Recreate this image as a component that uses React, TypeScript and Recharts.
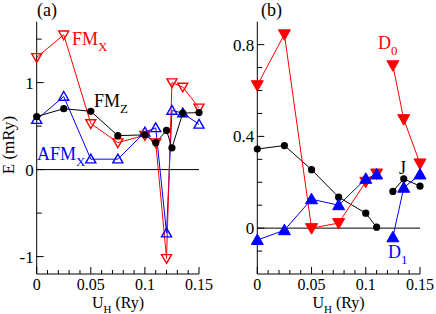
import React from 'react'
import { LineChart, Line, XAxis, YAxis, ReferenceLine } from 'recharts'

// panel (a): energy differences vs U_H
const uA = [0, 0.025, 0.05, 0.075, 0.1, 0.11, 0.12, 0.125, 0.135, 0.15]
const fmZ = [0.61, 0.7, 0.67, 0.39, 0.4, 0.31, 0.45, 0.25, 0.65, 0.655]
const fmX = [1.29, 1.55, 0.53, 0.31, 0.395, 0.31, -1.02, 1.0, 0.95, 0.71]
const afmX = [0.575, 0.84, 0.12, 0.12, 0.43, 0.48, -0.73, 0.68, 0.65, 0.52]

// panel (b): J, D0, D1 (null = gap in the curve)
const uB = [0, 0.025, 0.05, 0.075, 0.1, 0.11, 0.12, 0.125, 0.135, 0.15]
const jB = [0.345, 0.36, 0.255, 0.135, 0.065, 0.004, null, 0.16, 0.215, 0.183]
const d0 = [0.623, 0.845, 0.0, 0.022, 0.202, 0.238, null, 0.71, 0.475, 0.282]
const d1 = [-0.052, -0.009, 0.126, 0.1, 0.215, 0.234, null, -0.04, 0.176, 0.234]

// ticks
const xTicks = [0, 0.01, 0.02, 0.03, 0.04, 0.05, 0.06, 0.07, 0.08, 0.09, 0.1, 0.11, 0.12, 0.13, 0.14, 0.15]
const xMajor = [0, 0.05, 0.1, 0.15]
const xLabels = ['0', '0.05', '0.1', '0.15']
const yTicksA = [-1, -0.5, 0, 0.5, 1, 1.5]
const yMajorA = [-1, 0, 1]
const yLabelsA = ['-1', '0', '1']
const yTicksB = [-0.1, 0, 0.1, 0.2, 0.3, 0.4, 0.5, 0.6, 0.7, 0.8]
const yMajorB = [0, 0.4, 0.8]
const yLabelsB = ['0', '0.4', '0.8']

const RED = '#ff0000'
const BLUE = '#0000ff'
const FONT = '"Liberation Serif", "Times New Roman", serif'

const rowsA = uA.map((u, i) => ({ u, fmZ: fmZ[i], fmX: fmX[i], afmX: afmX[i] }))
const rowsB = uB.map((u, i) => ({ u, j: jB[i], d0: d0[i], d1: d1[i] }))

const labelOf = (v: number, majors: number[], labels: string[]) => {
  const k = majors.indexOf(v)
  return k >= 0 ? labels[k] : null
}

const bottomTick = (majors: number[], labels: string[]) => (p: any) => {
  const lab = labelOf(p.payload.value, majors, labels)
  return (
    <g>
      <line x1={p.x} x2={p.x} y1={p.y} y2={p.y - (lab ? 7 : 4)} stroke="#000" />
      {lab && (
        <text x={p.x} y={p.y + 16} textAnchor="middle" fontSize={16} fontFamily={FONT} fill="#000">
          {lab}
        </text>
      )}
    </g>
  )
}

const topTick = (majors: number[]) => (p: any) => {
  const major = majors.includes(p.payload.value)
  return <line x1={p.x} x2={p.x} y1={p.y} y2={p.y + (major ? 7 : 4)} stroke="#000" />
}

const leftTick = (majors: number[], labels: string[]) => (p: any) => {
  const lab = labelOf(p.payload.value, majors, labels)
  return (
    <g>
      <line x1={p.x} x2={p.x + (lab ? 7 : 5)} y1={p.y} y2={p.y} stroke="#000" />
      {lab && (
        <text x={p.x - 3} y={p.y + 6} textAnchor="end" fontSize={17} fontFamily={FONT} fill="#000">
          {lab}
        </text>
      )}
    </g>
  )
}

const rightTick = (majors: number[]) => (p: any) => {
  const major = majors.includes(p.payload.value)
  return <line x1={p.x} x2={p.x - (major ? 7 : 5)} y1={p.y} y2={p.y} stroke="#000" />
}

const triangle = (color: string, up: boolean, filled: boolean) => (p: any) => {
  const { cx, cy, index } = p
  if (cy == null || isNaN(cy)) return <g key={index} />
  const s = filled ? 6 : 5
  const d = up
    ? `M${cx},${cy - s} L${cx + s},${cy + s * 0.75} L${cx - s},${cy + s * 0.75} Z`
    : `M${cx},${cy + s} L${cx + s},${cy - s * 0.75} L${cx - s},${cy - s * 0.75} Z`
  return (
    <path
      key={index}
      d={d}
      fill={filled ? color : 'none'}
      stroke={color}
      strokeWidth={filled ? 1 : 1.4}
    />
  )
}

const circle = (p: any) => {
  const { cx, cy, index } = p
  if (cy == null || isNaN(cy)) return <g key={index} />
  return <circle key={index} cx={cx} cy={cy} r={3.6} fill="#000" />
}

const Sub = ({ x, y, main, sub, color, dy = 6 }: any) => (
  <text x={x} y={y} fill={color} fontSize={18} fontFamily={FONT}>
    {main}
    <tspan dy={dy} fontSize={13}>{sub}</tspan>
  </text>
)

const AxisTitle = ({ x }: { x: number }) => (
  <text x={x} y={308} fontSize={16} fontFamily={FONT} textAnchor="middle" fill="#000">
    U<tspan dy={5} fontSize={11}>H</tspan>
    <tspan dy={-5}> (Ry)</tspan>
  </text>
)

export default function App() {
  return (
    <div style={{ position: 'absolute', left: 0, top: 0, width: 436, height: 314, background: '#fff' }}>
      <div style={{ position: 'absolute', left: 0, top: 0 }}>
        <LineChart width={220} height={314} data={rowsA} margin={{ top: 21.7, right: 21, bottom: 10, left: 0 }}>
          <XAxis
            xAxisId="b"
            dataKey="u"
            type="number"
            domain={[0, 0.15]}
            ticks={xTicks}
            interval={0}
            height={30}
            tickSize={0}
            tickMargin={0}
            stroke="#000"
            tick={bottomTick(xMajor, xLabels)}
          />
          <XAxis
            xAxisId="t"
            dataKey="u"
            type="number"
            orientation="top"
            domain={[0, 0.15]}
            ticks={xTicks}
            interval={0}
            height={0}
            tickSize={0}
            tickMargin={0}
            stroke="#000"
            tick={topTick(xMajor)}
          />
          <YAxis
            yAxisId="l"
            type="number"
            domain={[-1.2, 1.7]}
            ticks={yTicksA}
            interval={0}
            width={36.7}
            tickSize={0}
            tickMargin={0}
            stroke="#000"
            tick={leftTick(yMajorA, yLabelsA)}
          />
          <YAxis
            yAxisId="r"
            type="number"
            orientation="right"
            domain={[-1.2, 1.7]}
            ticks={yTicksA}
            interval={0}
            width={0}
            tickSize={0}
            tickMargin={0}
            stroke="#000"
            tick={rightTick(yMajorA)}
          />
          <ReferenceLine xAxisId="b" yAxisId="l" y={0} stroke="#000" />
          <Line xAxisId="b" yAxisId="l" dataKey="afmX" stroke={BLUE} strokeWidth={1} dot={triangle(BLUE, true, false)} isAnimationActive={false} />
          <Line xAxisId="b" yAxisId="l" dataKey="fmX" stroke={RED} strokeWidth={1} dot={triangle(RED, false, false)} isAnimationActive={false} />
          <Line xAxisId="b" yAxisId="l" dataKey="fmZ" stroke="#000" strokeWidth={1} dot={circle} isAnimationActive={false} />
        </LineChart>
      </div>
      <div style={{ position: 'absolute', left: 220, top: 0 }}>
        <LineChart width={216} height={314} data={rowsB} margin={{ top: 21.7, right: 16, bottom: 10, left: 0 }}>
          <XAxis
            xAxisId="b"
            dataKey="u"
            type="number"
            domain={[0, 0.15]}
            ticks={xTicks}
            interval={0}
            height={30}
            tickSize={0}
            tickMargin={0}
            stroke="#000"
            tick={bottomTick(xMajor, xLabels)}
          />
          <XAxis
            xAxisId="t"
            dataKey="u"
            type="number"
            orientation="top"
            domain={[0, 0.15]}
            ticks={xTicks}
            interval={0}
            height={0}
            tickSize={0}
            tickMargin={0}
            stroke="#000"
            tick={topTick(xMajor)}
          />
          <YAxis
            yAxisId="l"
            type="number"
            domain={[-0.2, 0.9]}
            ticks={yTicksB}
            interval={0}
            width={37.3}
            tickSize={0}
            tickMargin={0}
            stroke="#000"
            tick={leftTick(yMajorB, yLabelsB)}
          />
          <YAxis
            yAxisId="r"
            type="number"
            orientation="right"
            domain={[-0.2, 0.9]}
            ticks={yTicksB}
            interval={0}
            width={0}
            tickSize={0}
            tickMargin={0}
            stroke="#000"
            tick={rightTick(yMajorB)}
          />
          <ReferenceLine xAxisId="b" yAxisId="l" y={0} stroke="#000" />
          <Line xAxisId="b" yAxisId="l" dataKey="j" stroke="#000" strokeWidth={1} dot={circle} isAnimationActive={false} />
          <Line xAxisId="b" yAxisId="l" dataKey="d0" stroke={RED} strokeWidth={1} dot={triangle(RED, false, true)} isAnimationActive={false} />
          <Line xAxisId="b" yAxisId="l" dataKey="d1" stroke={BLUE} strokeWidth={1} dot={triangle(BLUE, true, true)} isAnimationActive={false} />
        </LineChart>
      </div>
      <svg width={436} height={314} style={{ position: 'absolute', left: 0, top: 0, pointerEvents: 'none' }}>
        <text x={37} y={16} fontSize={18} fontFamily={FONT}>(a)</text>
        <text x={261} y={16} fontSize={18} fontFamily={FONT}>(b)</text>
        <text x={0} y={0} fontSize={17} fontFamily={FONT} textAnchor="middle" transform="translate(14,145) rotate(-90)">
          E (mRy)
        </text>
        <AxisTitle x={118} />
        <AxisTitle x={338.5} />
        <Sub x={72} y={45} main="FM" sub="X" color={RED} />
        <Sub x={94} y={107} main="FM" sub="Z" color="#000" />
        <Sub x={37} y={160} main="AFM" sub="X" color={BLUE} />
        <Sub x={378} y={49} main="D" sub="0" color={RED} />
        <Sub x={388} y={258} main="D" sub="1" color={BLUE} />
        <text x={399} y={174} fontSize={18} fontFamily={FONT} fill="#000">J</text>
      </svg>
    </div>
  )
}
